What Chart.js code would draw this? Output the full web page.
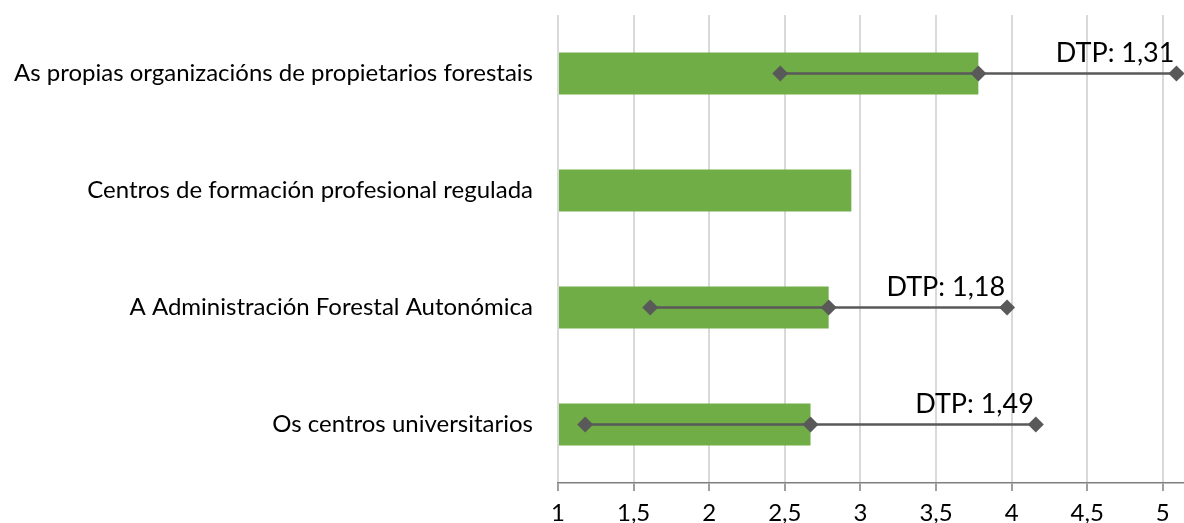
<!DOCTYPE html>
<html>
<head>
<meta charset="utf-8">
<script src="https://cdn.jsdelivr.net/npm/chart.js@4"></script>
<style>
  html, body { margin: 0; padding: 0; background: #fff; }
  #wrap { width: 1184px; height: 523px; position: relative; }
</style>
</head>
<body>
<div id="wrap"><canvas id="chart"></canvas></div>
<script>
const categories = [
  "As propias organizacións de propietarios forestais",
  "Centros de formación profesional regulada",
  "A Administración Forestal Autonómica",
  "Os centros universitarios"
];
const means = [3.78, 2.94, 2.79, 2.67];
const lowValues = [2.47, null, 1.61, 1.18];
const highValues = [5.09, null, 3.97, 4.16];
const dtpLabels = ["DTP: 1,31", null, "DTP: 1,18", "DTP: 1,49"];
const xTicks = [1, 1.5, 2, 2.5, 3, 3.5, 4, 4.5, 5];

const GREEN = "#70ad47";
const GREY = "#595959";
const FONT = "Lato, 'Open Sans', sans-serif";

// one line dataset per category that has a deviation
const errorSets = categories.map((cat, i) => {
  if (lowValues[i] == null) return null;
  return {
    type: "line",
    data: [
      { x: lowValues[i], y: cat },
      { x: means[i], y: cat },
      { x: highValues[i], y: cat }
    ],
    borderColor: GREY,
    borderWidth: 2.5,
    pointStyle: "rectRot",
    pointRadius: 8,
    pointBackgroundColor: GREY,
    pointBorderColor: GREY,
    pointBorderWidth: 0,
    clip: false,
    order: 1
  };
}).filter(Boolean);

const dtpPlugin = {
  id: "dtp",
  afterDatasetsDraw(chart) {
    const { ctx } = chart;
    const x = chart.scales.x, y = chart.scales.y;
    ctx.save();
    ctx.font = "27px " + FONT;
    ctx.fillStyle = "#000";
    ctx.textAlign = "right";
    ctx.textBaseline = "bottom";
    categories.forEach((cat, i) => {
      if (!dtpLabels[i]) return;
      ctx.fillText(dtpLabels[i], x.getPixelForValue(highValues[i]) - 2, y.getPixelForValue(i) - 7);
    });
    ctx.restore();
  }
};

new Chart(document.getElementById("chart"), {
  data: {
    labels: categories,
    datasets: [
      {
        type: "bar",
        data: means,
        base: 1,
        backgroundColor: GREEN,
        categoryPercentage: 1,
        barPercentage: 0.36,
        order: 2
      },
      ...errorSets
    ]
  },
  options: {
    indexAxis: "y",
    responsive: true,
    maintainAspectRatio: false,
    animation: false,
    layout: { autoPadding: false, padding: { top: 15, right: 0, bottom: 0, left: 0 } },
    plugins: { legend: { display: false }, tooltip: { enabled: false } },
    scales: {
      x: {
        min: 1,
        max: 5.14,
        afterBuildTicks(scale) {
          scale.ticks = xTicks.map(v => ({ value: v }));
        },
        afterFit(scale) {
          scale.height = 40;
          scale.paddingLeft = 0;
          scale.paddingRight = 0;
        },
        grid: { color: "#d9d9d9", lineWidth: 2, tickColor: "#7f7f7f", tickLength: 8, tickWidth: 1.5 },
        border: { display: true, color: "#7f7f7f", width: 1.5 },
        ticks: {
          color: "#000",
          font: { family: FONT, size: 24 },
          padding: 8,
          callback: v => String(v).replace(".", ",")
        }
      },
      y: {
        afterFit(scale) {
          scale.width = 558;
          scale.paddingTop = 0;
          scale.paddingBottom = 0;
        },
        grid: { display: false, drawTicks: false },
        border: { display: false },
        ticks: {
          color: "#000",
          font: { family: FONT, size: 24 },
          padding: 25
        }
      }
    }
  },
  plugins: [dtpPlugin]
});
</script>
</body>
</html>
